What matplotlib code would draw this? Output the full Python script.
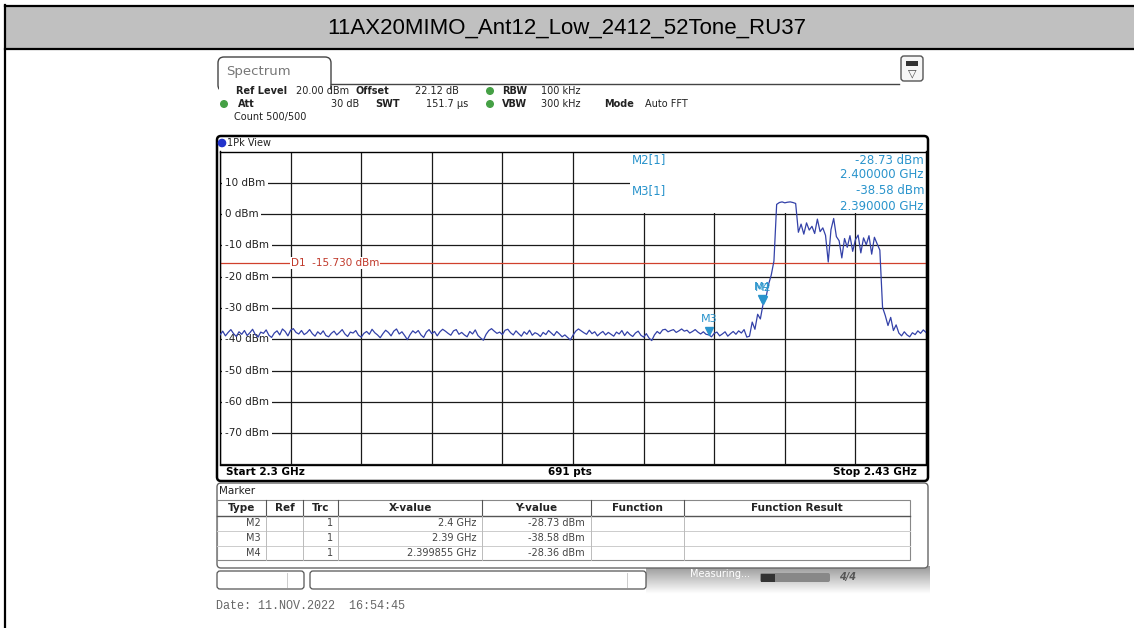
import numpy as np
import matplotlib.pyplot as plt
from matplotlib.patches import Rectangle, FancyBboxPatch, Circle
from matplotlib.transforms import offset_copy

plt.rcParams['font.family'] = ['DejaVu Sans']

W, H = 1134, 628
title = '11AX20MIMO_Ant12_Low_2412_52Tone_RU37'

# sweep: 2.3 GHz .. 2.43 GHz, trace every 0.5 MHz
start_mhz = 2300.0
stop_mhz = 2430.0
step_mhz = 0.5

# noise floor 2300.0 .. 2397.0 MHz
noise_dbm = [
    -38.6, -37.4, -38.9, -37.8, -36.9, -38.2, -39.1, -37.6, -38.4, -37.2,
    -38.8, -37.9, -36.8, -38.5, -39.3, -37.7, -38.1, -37.0, -38.7, -39.4,
    -38.0, -37.3, -38.6, -36.7, -37.5, -38.9, -37.1, -36.6, -37.8, -38.3,
    -37.2, -38.5, -37.9, -36.9, -38.2, -39.0, -37.6, -38.4, -37.3, -38.8,
    -39.2, -38.1, -37.4, -38.6, -37.8, -36.9, -38.3, -39.1, -37.7, -38.0,
    -37.2, -38.7, -39.3, -38.1, -37.5, -38.4, -36.8, -37.9, -38.6, -39.5,
    -38.2, -37.1, -37.8, -38.9, -37.4, -36.7, -38.3, -37.6, -38.8, -40.1,
    -38.5, -37.3, -38.0, -37.2, -38.6, -39.4, -37.7, -36.9, -38.2, -37.5,
    -38.9, -37.6, -36.8, -37.4, -38.1, -38.7, -37.3, -36.9, -38.4, -37.8,
    -38.6, -39.2, -37.5, -38.3, -37.0, -38.8, -39.6, -40.3, -38.4, -37.2,
    -36.6, -37.4, -38.1, -37.7, -38.5, -37.1, -36.8, -37.9, -38.6, -37.3,
    -38.2, -39.0, -37.6, -38.4, -37.1, -38.7, -37.9, -38.3, -39.1, -37.8,
    -38.5, -37.2, -38.0, -38.8, -37.5, -38.3, -39.2, -38.6, -39.4, -40.2,
    -38.7, -37.4, -36.7, -37.3, -37.9, -38.4, -37.1, -38.2, -37.6, -38.9,
    -38.1, -37.5, -38.6, -37.8, -38.4, -39.0, -37.7, -38.3, -37.2, -38.8,
    -37.6, -38.5, -39.1, -38.0, -37.4, -38.7, -39.3, -38.2, -39.6, -40.4,
    -38.6, -37.5, -38.2, -37.0, -36.8, -37.6, -37.2, -36.9, -37.8, -37.3,
    -36.7, -37.4, -37.1, -38.0, -37.5, -36.9, -37.7, -38.3, -37.6, -38.4,
    -38.58, -39.2, -38.1, -37.7, -38.9, -38.3, -37.6, -39.0, -38.2, -37.5,
    -38.4, -37.3, -38.0, -36.9, -39.3,
]
# 2397.5 .. 2430.0 MHz: lower skirt, RU37 burst, channel, upper skirt
band_dbm = [
    -39.0, -34.5, -36.8, -32.0, -33.5, -28.73, -27.0, -22.5, -19.5, -15.0,
    3.1, 3.7, 3.9, 3.6, 3.8, 3.9, 3.7, 3.4,
    -5.8, -3.2, -6.4, -2.8, -5.1, -3.9, -6.2, -1.6, -5.6, -4.4, -6.8,
    -15.3, -5.0, -1.4, -7.2, -8.5, -14.0, -7.8, -10.6, -6.9, -11.9, -8.2,
    -6.7, -12.4, -7.6, -9.8, -6.9, -12.8, -7.4, -9.5, -11.5,
    -29.8, -32.4, -35.6, -33.0, -37.2, -35.4, -38.0, -38.9, -37.6, -38.6,
    -39.2, -37.9, -38.5, -37.3, -38.1, -37.0, -37.8,
]

y_ticks = [10, 0, -10, -20, -30, -40, -50, -60, -70]
d1_dbm = -15.73

marker_names = ['M2', 'M3', 'M4']
marker_ghz = [2.4, 2.39, 2.399855]
marker_dbm = [-28.73, -38.58, -28.36]
marker_xtext = ['2.4 GHz', '2.39 GHz', '2.399855 GHz']

header_rows = [
    (91, [('Ref Level', 236, True), ('20.00 dBm', 296, False), ('Offset', 356, True),
          ('22.12 dB', 415, False), ('RBW', 502, True), ('100 kHz', 541, False)]),
    (104, [('Att', 238, True), ('30 dB', 331, False), ('SWT', 375, True),
           ('151.7 µs', 426, False), ('VBW', 502, True), ('300 kHz', 541, False),
           ('Mode', 604, True), ('Auto FFT', 645, False)]),
    (117, [('Count 500/500', 234, False)]),
]
green_dots = [(490, 91), (224, 104), (490, 104)]

table_cols = [217, 266, 303, 338, 482, 591, 684, 910]
table_head = ['Type', 'Ref', 'Trc', 'X-value', 'Y-value', 'Function', 'Function Result']

trace_dbm = np.array(noise_dbm + band_dbm)
freq_mhz = start_mhz + step_mhz * np.arange(len(trace_dbm))

blue = '#2a94cc'
trace_col = '#3341a8'
red = '#d0402c'

fig = plt.figure(figsize=(W / 100, H / 100), dpi=100)

# ---- the sweep diagram
gl, gr, gt, gb = 220, 926, 151.5, 464.5
ax = fig.add_axes([gl / W, 1 - gb / H, (gr - gl) / W, (gb - gt) / H], zorder=2)
ax.set_xlim(start_mhz, stop_mhz)
ax.set_ylim(-80, 20)
ax.set_xticks(np.linspace(start_mhz, stop_mhz, 11))
ax.set_yticks(np.arange(-80, 21, 10))
ax.tick_params(length=0, labelbottom=False, labelleft=False)
ax.set_axisbelow(True)
ax.grid(True, color='#1a1a1a', lw=0.9)
for s in ax.spines.values():
    s.set_color('black')
    s.set_linewidth(1.0)

px_mhz = (stop_mhz - start_mhz) / (gr - gl)
for v in y_ticks:
    ax.text(start_mhz + 5 * px_mhz, v, f'{v} dBm', va='center', ha='left', fontsize=7.5,
            color='#222222', zorder=1.5,
            bbox=dict(boxstyle='square,pad=0.25', fc='white', ec='none'))

# white readout area in the top right corner
bx = start_mhz + (630 - gl) * px_mhz
ax.add_patch(Rectangle((bx, 0.35), stop_mhz - bx, 20 - 0.35, fc='white', ec='none', zorder=1))

ax.axhline(d1_dbm, color=red, lw=0.9, zorder=2)
ax.text(start_mhz + (stop_mhz - start_mhz) / 10, d1_dbm, f'D1  {d1_dbm:.3f} dBm', color='#c0392b',
        fontsize=7.5, va='center', ha='left', zorder=2.2,
        bbox=dict(boxstyle='square,pad=0.1', fc='white', ec='none'))

ax.plot(freq_mhz, trace_dbm, color=trace_col, lw=0.9, zorder=3)

tri = offset_copy(ax.transData, fig=fig, x=0, y=4, units='dots')
lab = offset_copy(ax.transData, fig=fig, x=0, y=11, units='dots')
for name, f, v in zip(marker_names, marker_ghz, marker_dbm):
    ax.plot(f * 1000, v, marker='v', ms=6, color=blue, transform=tri, zorder=4)
    ax.text(f * 1000, v, name, color=blue, fontsize=8, ha='center', va='bottom',
            transform=lab, zorder=4)

# ---- overlay in screen pixels
ov = fig.add_axes([0, 0, 1, 1], zorder=3)
ov.set_facecolor('none')
ov.axis('off')

# title band
ov.add_patch(Rectangle((5, 7), W - 5, 42, fc='#c0c0c0', ec='none'))
ov.plot([5, W], [6, 6], color='black', lw=1.6)
ov.plot([5, W], [49, 49], color='black', lw=1.6)
ov.plot([5, 5], [5, H], color='black', lw=1.6)
ov.text(567, 28, title, fontsize=16, ha='center', va='center', family='Liberation Sans')

# tab + icon
ov.add_patch(FancyBboxPatch((218, 57), 113, 34, boxstyle='round,pad=0,rounding_size=6',
                            fc='white', ec='#444444', lw=1))
ov.add_patch(Rectangle((219, 84), 111, 9, fc='white', ec='none', zorder=3))
ov.plot([331, 899], [83.5, 83.5], color='#444444', lw=1)
ov.text(226, 71, 'Spectrum', fontsize=9.5, color='#777777', va='center')
ov.add_patch(FancyBboxPatch((901, 56), 22, 25, boxstyle='round,pad=0,rounding_size=3',
                            fc='#f6f6f6', ec='#555555', lw=1))
ov.add_patch(Rectangle((906, 61), 12, 4.5, fc='#333333', ec='none'))
ov.text(912, 73, '▽', fontsize=8, ha='center', va='center', color='#444444')

for y, items in header_rows:
    for txt, x, bold in items:
        ov.text(x, y, txt, fontsize=7, va='center', ha='left',
                fontweight='bold' if bold else 'normal', color='#222222')
for x, y in green_dots:
    ov.add_patch(Circle((x, y), 3.3, color='#45a045'))

# diagram frame
ov.add_patch(FancyBboxPatch((217, 136), 711, 345, boxstyle='round,pad=0,rounding_size=4',
                            fc='none', ec='black', lw=1.8))
ov.add_patch(Circle((222, 143), 3.6, color='#2233cc'))
ov.text(227, 143, '1Pk View', fontsize=7, va='center', color='#222222')

# marker readout
readout = [(0, 160), (1, 191)]
for i, y in readout:
    ov.text(632, y, f'{marker_names[i]}[1]', color=blue, fontsize=8.5, va='center')
    ov.text(924, y, f'{marker_dbm[i]:.2f} dBm', color=blue, fontsize=8.5, va='center', ha='right')
    ov.text(924, y + 15, f'{marker_ghz[i]:.6f} GHz', color=blue, fontsize=8.5, va='center',
            ha='right')

ov.text(226, 472, f'Start {start_mhz / 1000:g} GHz', fontsize=7.5, fontweight='bold', va='center')
ov.text(570, 472, f'{691} pts', fontsize=7.5, fontweight='bold', va='center', ha='center')
ov.text(917, 472, f'Stop {stop_mhz / 1000:g} GHz', fontsize=7.5, fontweight='bold', va='center',
        ha='right')

# marker table
ov.add_patch(FancyBboxPatch((217, 483), 711, 85, boxstyle='round,pad=0,rounding_size=4',
                            fc='white', ec='#666666', lw=1))
ov.text(219, 491, 'Marker', fontsize=7.5, va='center', color='#222222')
ov.add_patch(Rectangle((217, 500), 693, 60, fc='none', ec='#888888', lw=0.8))
ov.plot([217, 910], [515.5, 515.5], color='#555555', lw=1)
for y in [530.5, 545.5]:
    ov.plot([217, 910], [y, y], color='#cccccc', lw=0.7)
for x in table_cols[1:-1]:
    ov.plot([x, x], [500, 515.5], color='#555555', lw=0.8)
    ov.plot([x, x], [515.5, 560], color='#bbbbbb', lw=0.7)
for i, head in enumerate(table_head):
    ov.text((table_cols[i] + table_cols[i + 1]) / 2, 508, head, fontsize=7.5, ha='center',
            va='center', fontweight='bold', color='#222222')
for r, (name, xt, v) in enumerate(zip(marker_names, marker_xtext, marker_dbm)):
    y = 523 + 15 * r
    ov.text(261, y, name, fontsize=7, ha='right', va='center', color='#444444')
    ov.text(333, y, '1', fontsize=7, ha='right', va='center', color='#444444')
    ov.text(476, y, xt, fontsize=7, ha='right', va='center', color='#444444')
    ov.text(585, y, f'{v:.2f} dBm', fontsize=7, ha='right', va='center', color='#444444')

# status bar
ov.add_patch(FancyBboxPatch((217, 571), 87, 18, boxstyle='round,pad=0,rounding_size=3',
                            fc='white', ec='#555555', lw=0.9))
ov.plot([287, 287], [573, 587], color='#cccccc', lw=0.7)
ov.add_patch(FancyBboxPatch((310, 571), 336, 18, boxstyle='round,pad=0,rounding_size=3',
                            fc='white', ec='#555555', lw=0.9))
ov.plot([627, 627], [573, 587], color='#cccccc', lw=0.7)
grad = np.linspace(0.6, 1.0, 30)[:, None] * np.ones((1, 10))
ov.imshow(grad, extent=(646, 930, 594, 566), aspect='auto', cmap='gray', vmin=0, vmax=1)
ov.text(690, 574, 'Measuring...', fontsize=7, color='white', va='center')
ov.add_patch(FancyBboxPatch((760, 573), 70, 9, boxstyle='round,pad=0,rounding_size=2',
                            fc='#888888', ec='none'))
ov.add_patch(Rectangle((761, 573.5), 14, 8, fc='#333333', ec='none'))
ov.text(848, 577, '4/4', fontsize=7, color='#555555', ha='center', va='center',
        fontweight='bold', style='italic')

ov.text(216, 606, 'Date: 11.NOV.2022  16:54:45', fontsize=8.5, family='Liberation Mono',
        color='#666666', va='center')

ov.set_xlim(0, W)
ov.set_ylim(H, 0)

fig.savefig('out.png', dpi=100, facecolor='white')
